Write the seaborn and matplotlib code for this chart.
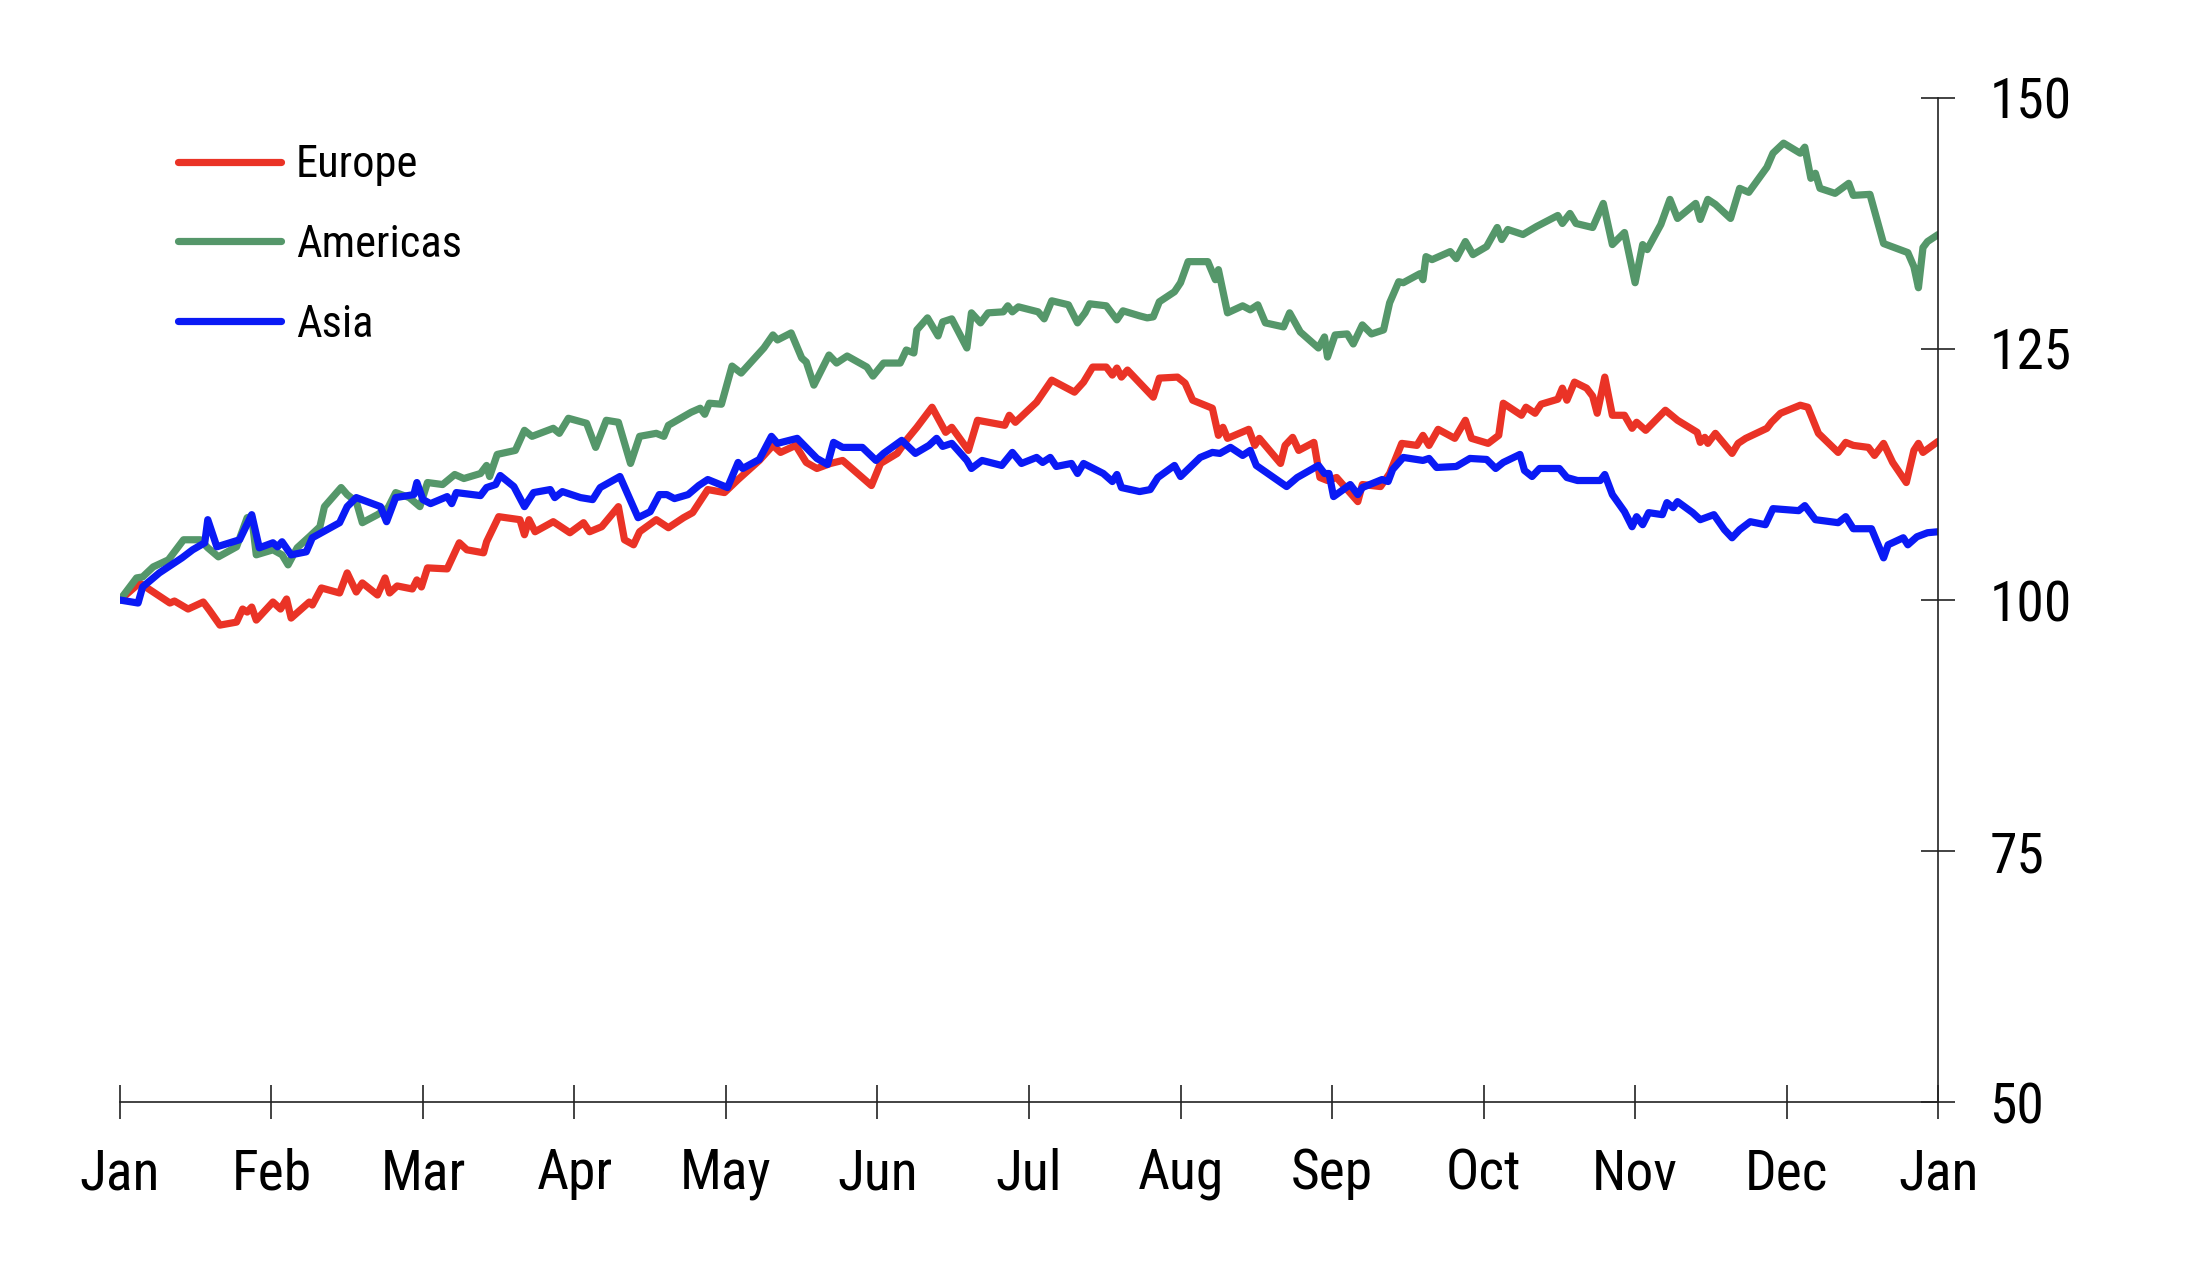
import matplotlib
matplotlib.use("Agg")
import matplotlib.pyplot as plt
from matplotlib.lines import Line2D
from matplotlib import font_manager
import seaborn as sns
import pandas as pd

# ---- data (x in months since start of January, values indexed to 100) ----
europe_m = [0.0, 0.13, 0.33, 0.36, 0.45, 0.55, 0.59, 0.66, 0.77, 0.81, 0.84, 0.87, 0.90, 1.01, 1.06, 1.10,
            1.13, 1.25, 1.27, 1.33, 1.45, 1.50, 1.56, 1.60, 1.70, 1.75, 1.78, 1.83, 1.93, 1.96, 1.99, 2.03,
            2.16, 2.24, 2.29, 2.40, 2.42, 2.50, 2.64, 2.67, 2.70, 2.74, 2.86, 2.97, 3.06, 3.10, 3.18, 3.29,
            3.33, 3.39, 3.43, 3.54, 3.62, 3.72, 3.78, 3.88, 3.99, 4.08, 4.22, 4.31, 4.36, 4.46, 4.53, 4.60,
            4.69, 4.77, 4.96, 5.02, 5.13, 5.20, 5.26, 5.36, 5.45, 5.49, 5.60, 5.66, 5.84, 5.87, 5.91, 6.05,
            6.15, 6.30, 6.36, 6.42, 6.51, 6.55, 6.58, 6.61, 6.65, 6.82, 6.86, 6.98, 7.03, 7.08, 7.21, 7.25,
            7.28, 7.31, 7.45, 7.49, 7.52, 7.66, 7.69, 7.74, 7.78, 7.88, 7.92, 7.97, 8.03, 8.17, 8.20, 8.32,
            8.38, 8.46, 8.56, 8.60, 8.64, 8.70, 8.81, 8.88, 8.92, 9.03, 9.10, 9.13, 9.25, 9.28, 9.34, 9.38,
            9.49, 9.52, 9.55, 9.60, 9.68, 9.72, 9.75, 9.80, 9.85, 9.93, 9.98, 10.01, 10.07, 10.20, 10.28,
            10.41, 10.43, 10.46, 10.48, 10.53, 10.64, 10.68, 10.73, 10.87, 10.90, 10.96, 11.09, 11.14,
            11.21, 11.34, 11.39, 11.44, 11.54, 11.58, 11.64, 11.70, 11.79, 11.84, 11.87, 11.90, 12.0]
europe_v = [100.0, 101.7, 99.7, 99.9, 99.1, 99.8, 99.0, 97.5, 97.8, 99.1, 98.8, 99.3, 98.0, 99.8, 99.1, 100.1,
            98.2, 99.8, 99.5, 101.2, 100.7, 102.7, 100.8, 101.7, 100.5, 102.2, 100.7, 101.4, 101.1, 102.0, 101.3, 103.2,
            103.1, 105.7, 105.0, 104.7, 105.8, 108.3, 108.0, 106.5, 108.0, 106.8, 107.8, 106.7, 107.7, 106.8, 107.3, 109.3,
            106.0, 105.5, 106.8, 108.0, 107.2, 108.2, 108.7, 111.0, 110.7, 112.0, 113.9, 115.4, 114.7, 115.4, 113.7, 113.1,
            113.6, 113.9, 111.4, 113.6, 114.6, 116.1, 117.2, 119.2, 116.7, 117.2, 114.9, 117.9, 117.4, 118.4, 117.7, 119.7,
            121.9, 120.7, 121.7, 123.2, 123.2, 122.4, 123.1, 122.2, 122.9, 120.2, 122.1, 122.2, 121.6, 119.9, 119.1, 116.4,
            117.2, 116.1, 117.0, 115.4, 116.1, 113.6, 115.4, 116.2, 114.9, 115.7, 112.2, 111.9, 112.2, 109.8, 111.5, 111.3,
            112.6, 115.6, 115.4, 116.4, 115.4, 117.0, 116.1, 117.9, 116.1, 115.6, 116.4, 119.6, 118.4, 119.2, 118.6, 119.5,
            120.0, 121.1, 119.9, 121.7, 121.1, 120.3, 118.6, 122.2, 118.4, 118.4, 117.1, 117.7, 116.9, 118.9, 117.9,
            116.7, 115.7, 116.2, 115.6, 116.6, 114.6, 115.6, 116.1, 117.1, 117.7, 118.6, 119.4, 119.2,
            116.6, 114.7, 115.7, 115.4, 115.2, 114.4, 115.6, 113.7, 111.7, 114.9, 115.6, 114.7, 115.8]

americas_m = [0.0, 0.11, 0.15, 0.22, 0.32, 0.42, 0.53, 0.58, 0.65, 0.77, 0.84, 0.87, 0.90, 1.01, 1.07, 1.11,
              1.17, 1.25, 1.32, 1.35, 1.46, 1.50, 1.56, 1.60, 1.70, 1.77, 1.82, 1.91, 1.98, 2.03, 2.13, 2.21,
              2.27, 2.38, 2.42, 2.44, 2.49, 2.61, 2.67, 2.72, 2.86, 2.90, 2.96, 3.08, 3.14, 3.21, 3.29, 3.37,
              3.43, 3.54, 3.59, 3.62, 3.77, 3.83, 3.86, 3.89, 3.97, 4.04, 4.10, 4.25, 4.31, 4.34, 4.43, 4.50,
              4.53, 4.58, 4.68, 4.73, 4.80, 4.93, 4.97, 5.04, 5.15, 5.19, 5.24, 5.26, 5.33, 5.40, 5.43, 5.49,
              5.59, 5.62, 5.68, 5.73, 5.83, 5.86, 5.89, 5.93, 6.06, 6.10, 6.15, 6.26, 6.32, 6.37, 6.40, 6.51,
              6.58, 6.62, 6.73, 6.78, 6.82, 6.86, 6.96, 7.00, 7.05, 7.18, 7.23, 7.25, 7.31, 7.41, 7.46, 7.51,
              7.56, 7.68, 7.72, 7.79, 7.91, 7.95, 7.97, 8.02, 8.10, 8.14, 8.20, 8.26, 8.34, 8.38, 8.44, 8.47,
              8.58, 8.60, 8.62, 8.66, 8.78, 8.82, 8.88, 8.93, 9.02, 9.09, 9.12, 9.16, 9.26, 9.35, 9.49, 9.52,
              9.57, 9.61, 9.72, 9.79, 9.85, 9.93, 10.00, 10.05, 10.08, 10.17, 10.23, 10.28, 10.40, 10.43,
              10.48, 10.53, 10.63, 10.69, 10.75, 10.87, 10.91, 10.98, 11.09, 11.12, 11.16, 11.19, 11.22,
              11.32, 11.41, 11.44, 11.55, 11.64, 11.80, 11.84, 11.87, 11.90, 11.93, 12.0]
americas_v = [100.0, 102.2, 102.3, 103.3, 104.0, 106.0, 106.0, 105.2, 104.3, 105.3, 108.2, 108.3, 104.5, 105.0, 104.5, 103.5,
              105.2, 106.3, 107.3, 109.3, 111.2, 110.5, 109.8, 107.7, 108.5, 109.2, 110.7, 110.2, 109.3, 111.7, 111.5, 112.5,
              112.1, 112.6, 113.4, 112.3, 114.5, 114.9, 116.9, 116.3, 117.1, 116.6, 118.1, 117.6, 115.2, 117.9, 117.7, 113.6,
              116.3, 116.6, 116.3, 117.4, 118.7, 119.1, 118.5, 119.6, 119.5, 123.3, 122.6, 125.1, 126.4, 125.9, 126.6, 124.1,
              123.7, 121.4, 124.4, 123.6, 124.3, 123.2, 122.3, 123.6, 123.6, 124.9, 124.6, 126.9, 128.1, 126.3, 127.7, 128.0,
              125.1, 128.6, 127.6, 128.6, 128.7, 129.3, 128.7, 129.2, 128.7, 128.0, 129.8, 129.4, 127.6, 128.6, 129.5, 129.3,
              127.9, 128.8, 128.3, 128.1, 128.2, 129.7, 130.7, 131.6, 133.7, 133.7, 131.9, 132.9, 128.6, 129.3, 128.9, 129.4,
              127.6, 127.2, 128.6, 126.7, 125.1, 126.2, 124.2, 126.4, 126.5, 125.5, 127.4, 126.5, 126.9, 129.6, 131.7, 131.6,
              132.5, 131.9, 134.2, 133.9, 134.7, 134.0, 135.7, 134.4, 135.2, 137.1, 135.9, 136.9, 136.4, 137.2, 138.3, 137.5,
              138.5, 137.5, 137.1, 139.5, 135.4, 136.6, 131.6, 135.4, 134.9, 137.4, 139.9, 138.0, 139.5, 137.9,
              139.9, 139.4, 138.0, 141.0, 140.6, 143.1, 144.5, 145.5, 144.5, 145.1, 142.0, 142.5, 141.0,
              140.5, 141.5, 140.3, 140.4, 135.5, 134.6, 133.2, 131.1, 135.1, 135.7, 136.4]

asia_m = [0.0, 0.12, 0.15, 0.26, 0.34, 0.41, 0.48, 0.56, 0.58, 0.64, 0.79, 0.87, 0.92, 1.01, 1.04, 1.07,
          1.13, 1.23, 1.27, 1.45, 1.50, 1.56, 1.72, 1.76, 1.82, 1.94, 1.96, 2.00, 2.05, 2.16, 2.19, 2.22,
          2.38, 2.42, 2.48, 2.51, 2.60, 2.67, 2.73, 2.84, 2.87, 2.92, 3.04, 3.12, 3.17, 3.30, 3.42, 3.50,
          3.56, 3.61, 3.66, 3.75, 3.82, 3.88, 4.01, 4.08, 4.11, 4.22, 4.30, 4.34, 4.47, 4.60, 4.67, 4.71,
          4.77, 4.90, 4.99, 5.04, 5.16, 5.25, 5.34, 5.39, 5.43, 5.49, 5.59, 5.62, 5.69, 5.82, 5.89, 5.95,
          6.05, 6.09, 6.14, 6.18, 6.28, 6.32, 6.36, 6.49, 6.55, 6.58, 6.61, 6.73, 6.80, 6.85, 6.96, 7.00,
          7.13, 7.21, 7.26, 7.33, 7.41, 7.46, 7.50, 7.70, 7.77, 7.91, 7.95, 7.98, 8.01, 8.12, 8.17, 8.20,
          8.33, 8.37, 8.40, 8.47, 8.60, 8.64, 8.69, 8.82, 8.91, 9.02, 9.08, 9.13, 9.24, 9.27, 9.32, 9.37,
          9.50, 9.55, 9.62, 9.77, 9.80, 9.85, 9.93, 9.98, 10.01, 10.05, 10.09, 10.18, 10.21, 10.25, 10.28,
          10.38, 10.43, 10.52, 10.59, 10.64, 10.69, 10.76, 10.86, 10.91, 11.08, 11.12, 11.19, 11.34,
          11.39, 11.44, 11.56, 11.64, 11.67, 11.77, 11.80, 11.86, 11.93, 12.0]
asia_v = [100.0, 99.7, 101.3, 102.7, 103.5, 104.2, 105.0, 105.7, 108.0, 105.3, 106.0, 108.5, 105.2, 105.7, 105.3, 105.8,
          104.5, 104.8, 106.2, 107.7, 109.3, 110.2, 109.3, 107.8, 110.2, 110.5, 111.7, 110.0, 109.6, 110.3, 109.6, 110.7,
          110.4, 111.2, 111.5, 112.4, 111.3, 109.3, 110.7, 111.0, 110.2, 110.8, 110.2, 110.0, 111.2, 112.3, 108.2, 108.8,
          110.5, 110.5, 110.1, 110.5, 111.4, 112.0, 111.2, 113.7, 113.1, 114.0, 116.3, 115.6, 116.1, 114.1, 113.5, 115.7,
          115.2, 115.2, 113.9, 114.6, 115.9, 114.6, 115.4, 116.1, 115.3, 115.6, 113.9, 113.1, 113.9, 113.4, 114.7, 113.6,
          114.2, 113.7, 114.2, 113.3, 113.6, 112.6, 113.6, 112.6, 111.8, 112.5, 111.2, 110.8, 111.0, 112.2, 113.4, 112.3,
          114.2, 114.7, 114.6, 115.2, 114.4, 114.9, 113.4, 111.3, 112.2, 113.4, 112.6, 112.6, 110.3, 111.5, 110.5, 111.2,
          112.0, 111.8, 113.0, 114.2, 113.9, 114.1, 113.2, 113.3, 114.1, 114.0, 113.1, 113.7, 114.5, 112.9, 112.3, 113.1,
          113.1, 112.2, 111.9, 111.9, 112.5, 110.5, 108.8, 107.3, 108.3, 107.5, 108.7, 108.5, 109.7, 109.2, 109.8,
          108.7, 108.0, 108.5, 107.0, 106.2, 107.0, 107.8, 107.5, 109.1, 108.9, 109.4, 108.0, 107.7,
          108.3, 107.1, 107.1, 104.2, 105.5, 106.2, 105.5, 106.3, 106.7, 106.8]

regions = ["Europe", "Americas", "Asia"]
month_labels = ["Jan", "Feb", "Mar", "Apr", "May", "Jun", "Jul", "Aug", "Sep", "Oct", "Nov", "Dec", "Jan"]
y_ticks = [50, 75, 100, 125, 150]

colors = {"Europe": "#EA3326", "Americas": "#55976A", "Asia": "#0A1AF5"}

# ---- build long-form table ----
frames = []
for name, xs, vs in [("Europe", europe_m, europe_v),
                     ("Americas", americas_m, americas_v),
                     ("Asia", asia_m, asia_v)]:
    frames.append(pd.DataFrame({"month": xs, "value": vs, "region": name}))
df = pd.concat(frames, ignore_index=True)

sns.set_theme(style="white")

# pick a narrow sans font if one is installed
installed = {f.name for f in font_manager.fontManager.ttflist}
narrow_candidates = ["Liberation Sans Narrow", "Arial Narrow", "Roboto Condensed",
                     "Open Sans Condensed", "Noto Sans Condensed", "DejaVu Sans Condensed"]
family = None
for cand in narrow_candidates:
    if cand in installed:
        family = cand
        break
if family is not None:
    tick_size, legend_size = 20, 16
else:
    family = "Liberation Sans" if "Liberation Sans" in installed else "DejaVu Sans"
    tick_size, legend_size = 18, 15
plt.rcParams["font.family"] = [family, "DejaVu Sans"]

fig = plt.figure(figsize=(10.94, 6.42), dpi=200)
ax = fig.add_axes([0.0548, 0.1417, 0.8310, 0.7820])

sns.lineplot(data=df, x="month", y="value", hue="region", hue_order=regions,
             palette=colors, estimator=None, sort=False, linewidth=2.6,
             legend=False, ax=ax)
for ln in ax.lines:
    ln.set_solid_joinstyle("round")
    ln.set_solid_capstyle("round")

ax.set_xlim(0, 12)
ax.set_ylim(50, 150)
ax.set_xticks(range(len(month_labels)))
ax.set_xticklabels(month_labels)
ax.set_yticks(y_ticks)
ax.set_xlabel("")
ax.set_ylabel("")

ax.yaxis.tick_right()
for side in ["left", "top"]:
    ax.spines[side].set_visible(False)
for side in ["right", "bottom"]:
    ax.spines[side].set_visible(True)
    ax.spines[side].set_color("#222222")
    ax.spines[side].set_linewidth(0.6)

ax.tick_params(axis="x", direction="inout", length=12.5, width=0.6, color="#222222",
               labelsize=tick_size, pad=10, labelcolor="black", bottom=True)
ax.tick_params(axis="y", direction="inout", length=12, width=0.6, color="#222222",
               labelsize=tick_size, pad=12.5, labelcolor="black", right=True, left=False,
               labelright=True, labelleft=False)
ax.grid(False)

handles = [Line2D([0], [0], color=colors[r], lw=2.6, solid_capstyle="round") for r in regions]
ax.legend(handles, regions, loc="upper left", bbox_to_anchor=(0.015, 0.985),
          frameon=False, fontsize=legend_size, handlelength=2.3, handletextpad=0.35,
          labelspacing=0.85, borderaxespad=0.3, labelcolor="black")

fig.savefig("out.png", dpi=200)
